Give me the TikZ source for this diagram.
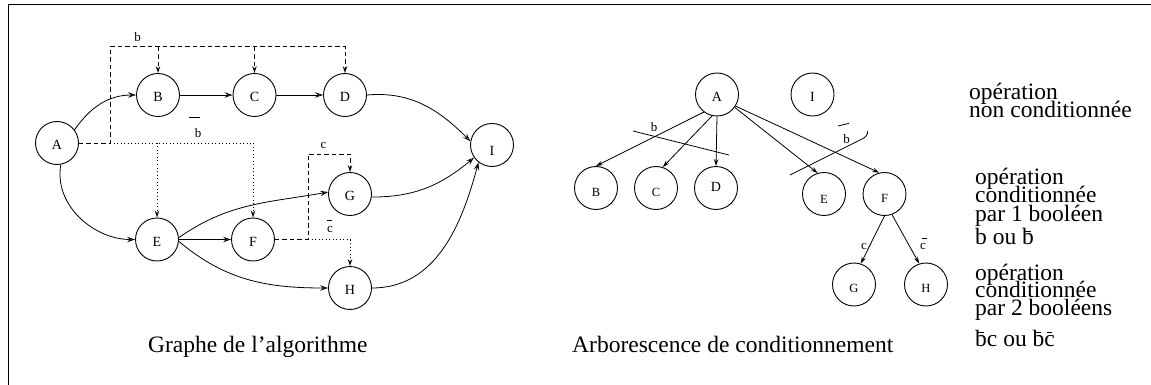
\documentclass[tikz,border=0pt]{standalone}
\usepackage{fontspec}
\setmainfont{Liberation Serif}
\usetikzlibrary{arrows.meta}
\newcommand\ovr[1]{\setbox0\hbox{#1}\rlap{\hbox to\wd0{\hss\vrule width 0.45\wd0 height 0.585em depth -0.54em\hss}}\box0}
\begin{document}
\begin{tikzpicture}[x=1pt,y=1pt,
  nd/.style={circle,draw,line width=0.9pt,minimum size=43pt,inner sep=0pt,
     font=\fontsize{14}{14}\selectfont,text height=#1,text depth=0pt},
  nd/.default=13.3pt,
  ns/.style={circle,draw,line width=0.9pt,minimum size=43pt,inner sep=0pt,
     font=\fontsize{12.5}{12.5}\selectfont,text height=#1,text depth=0pt},
  ma/.style={line width=0.8pt,-{Stealth[open,length=8pt,width=5.5pt,inset=3pt]}},
  sa/.style={line width=0.8pt,-{Stealth[open,length=7pt,width=4.5pt,inset=2.5pt]}},
  dsh/.style={line width=0.8pt,dash pattern=on 4.5pt off 3pt},
  dot/.style={line width=0.8pt,dash pattern=on 0.9pt off 2.6pt},
  lb/.style={inner sep=0pt,font=\fontsize{13}{13}\selectfont},
  txt/.style={inner sep=0pt,anchor=base west,font=\fontsize{23.5}{19}\selectfont},
  bar/.style={line width=0.8pt}]
\useasboundingbox (0,0) rectangle (1151,-385);
\draw[line width=1.2pt] (8.5,-385) -- (8.5,-4.5) -- (1151,-4.5);

% ---------- left graph ----------
\node[nd] (A) at (57,-143) {A};
\node[nd] (B) at (158,-95) {B};
\node[nd] (C) at (254.5,-95) {C};
\node[nd] (D) at (345,-95) {D};
\node[nd] (E) at (157,-239.5) {E};
\node[nd] (F) at (253,-239.5) {F};
\node[nd] (G) at (350,-194) {G};
\node[nd] (H) at (350,-288) {H};
\node[nd=20pt] (I) at (492,-145) {I};

\draw[ma] (A.37) to[out=55,in=180] (B.west);
\draw[ma] (A.-80) to[out=-100,in=180] (E.west);
\draw[ma] (B) -- (C);
\draw[ma] (C) -- (D);
\draw[ma] (E) -- (F);
\draw[ma] (E.5) to[out=35,in=190] (G.175);
\draw[ma] (E.-5) to[out=-40,in=180] (H.west);
\draw[ma] (D.east) to[out=5,in=135] (I.170);
\draw[ma] (G.-8) to[out=0,in=220] (I.215);
\draw[ma] (H.east) to[out=0,in=255] (I.232);

\coordinate (j1) at (110,-143);
\coordinate (j2) at (110,-46.7);
\draw[dsh,sa] (A.east) -- (j1) -- (j2) -- (D|-j2) -- (D.north);
\draw[dsh,sa] (B|-j2) -- (B.north);
\draw[dsh,sa] (C|-j2) -- (C.north);
\draw[dot,sa] (j1) -- (F|-j1) -- (F.north);
\draw[dot,sa] (E|-j1) -- (E.north);

\coordinate (k1) at (308,-239.5);
\coordinate (k2) at (308,-154);
\draw[dsh,sa] (F.east) -- (k1) -- (k2) -- (G|-k2) -- (G.north);
\draw[dot,sa] (k1) -- (H|-k1) -- (H.north);

\node[lb] (lb1) at (137.7,-36.7) {b};
\node[lb] (lb2) at (198,-133) {b};
\draw[bar] (189,-117.7) -- (200,-117.7);
\node[lb] (lc1) at (323.5,-145.5) {c};
\node[lb] (lc2) at (330,-229.5) {c};
\draw[bar] (326.7,-220) -- (331.7,-220);

\node[txt] (cap1) at (148,-352) {Graphe de l’algorithme};

% ---------- right tree ----------
\node[nd] (A2) at (717,-94.5) {A};
\node[nd] (I2) at (812.5,-94.5) {I};
\node[ns=17.3pt] (B2) at (596,-188) {B};
\node[ns=17.3pt] (C2) at (656,-188) {C};
\node[nd=7.3pt] (D2) at (716,-188) {D};
\node[ns=18.3pt] (E2) at (824,-194) {E};
\node[ns=16.3pt] (F2) at (884.5,-194) {F};
\node[ns=15.3pt] (G2) at (854,-284.5) {G};
\node[ns=15.3pt] (H2) at (926,-284.5) {H};

\draw[sa] (A2.233) -- (B2.north);
\draw[sa] (A2.257) -- (C2.72);
\draw[sa] (A2.south) -- (D2.north);
\draw[sa] (A2.-36) -- (E2.107);
\draw[sa] (A2.-32) -- (F2.104);
\draw[sa] (F2.-90) -- (G2.72);
\draw[sa] (F2.-70) -- (H2.108);

\draw[bar] (633,-131) -- (729,-155);
\node[lb] (lb3) at (654,-127) {b};
\draw[bar] (790,-175) -- (862,-139) to[out=27,in=-80] (867.5,-131);
\node[lb] (lb4) at (846.5,-139) {b};
\draw[bar] (838,-126) -- (849,-123.3);
\node[lb] (lc3) at (864,-246.7) {c};
\node[lb] (lc4) at (923,-246.7) {c};
\draw[bar] (921.5,-238.3) -- (926.5,-238.3);

\node[txt] (cap2) at (572,-352) {Arborescence de conditionnement};

% ---------- legend ----------
\node[txt] (t1) at (969,-99.3) {opération};
\node[txt] (t2) at (969,-117.3) {non conditionnée};
\node[txt] (t3) at (975,-184.3) {opération};
\node[txt] (t4) at (975,-202.3) {conditionnée};
\node[txt] (t5) at (975,-221) {par 1 booléen};
\node[txt] (t6) at (975,-244.3) {b ou \ovr{b}};
\node[txt] (t7) at (975,-280) {opération};
\node[txt] (t8) at (975,-297.7) {conditionnée};
\node[txt] (t9) at (975,-315.7) {par 2 booléens};
\node[txt] (t10) at (975,-346) {\ovr{b}c ou \ovr{b}\ovr{c}};
\end{tikzpicture}
\end{document}
